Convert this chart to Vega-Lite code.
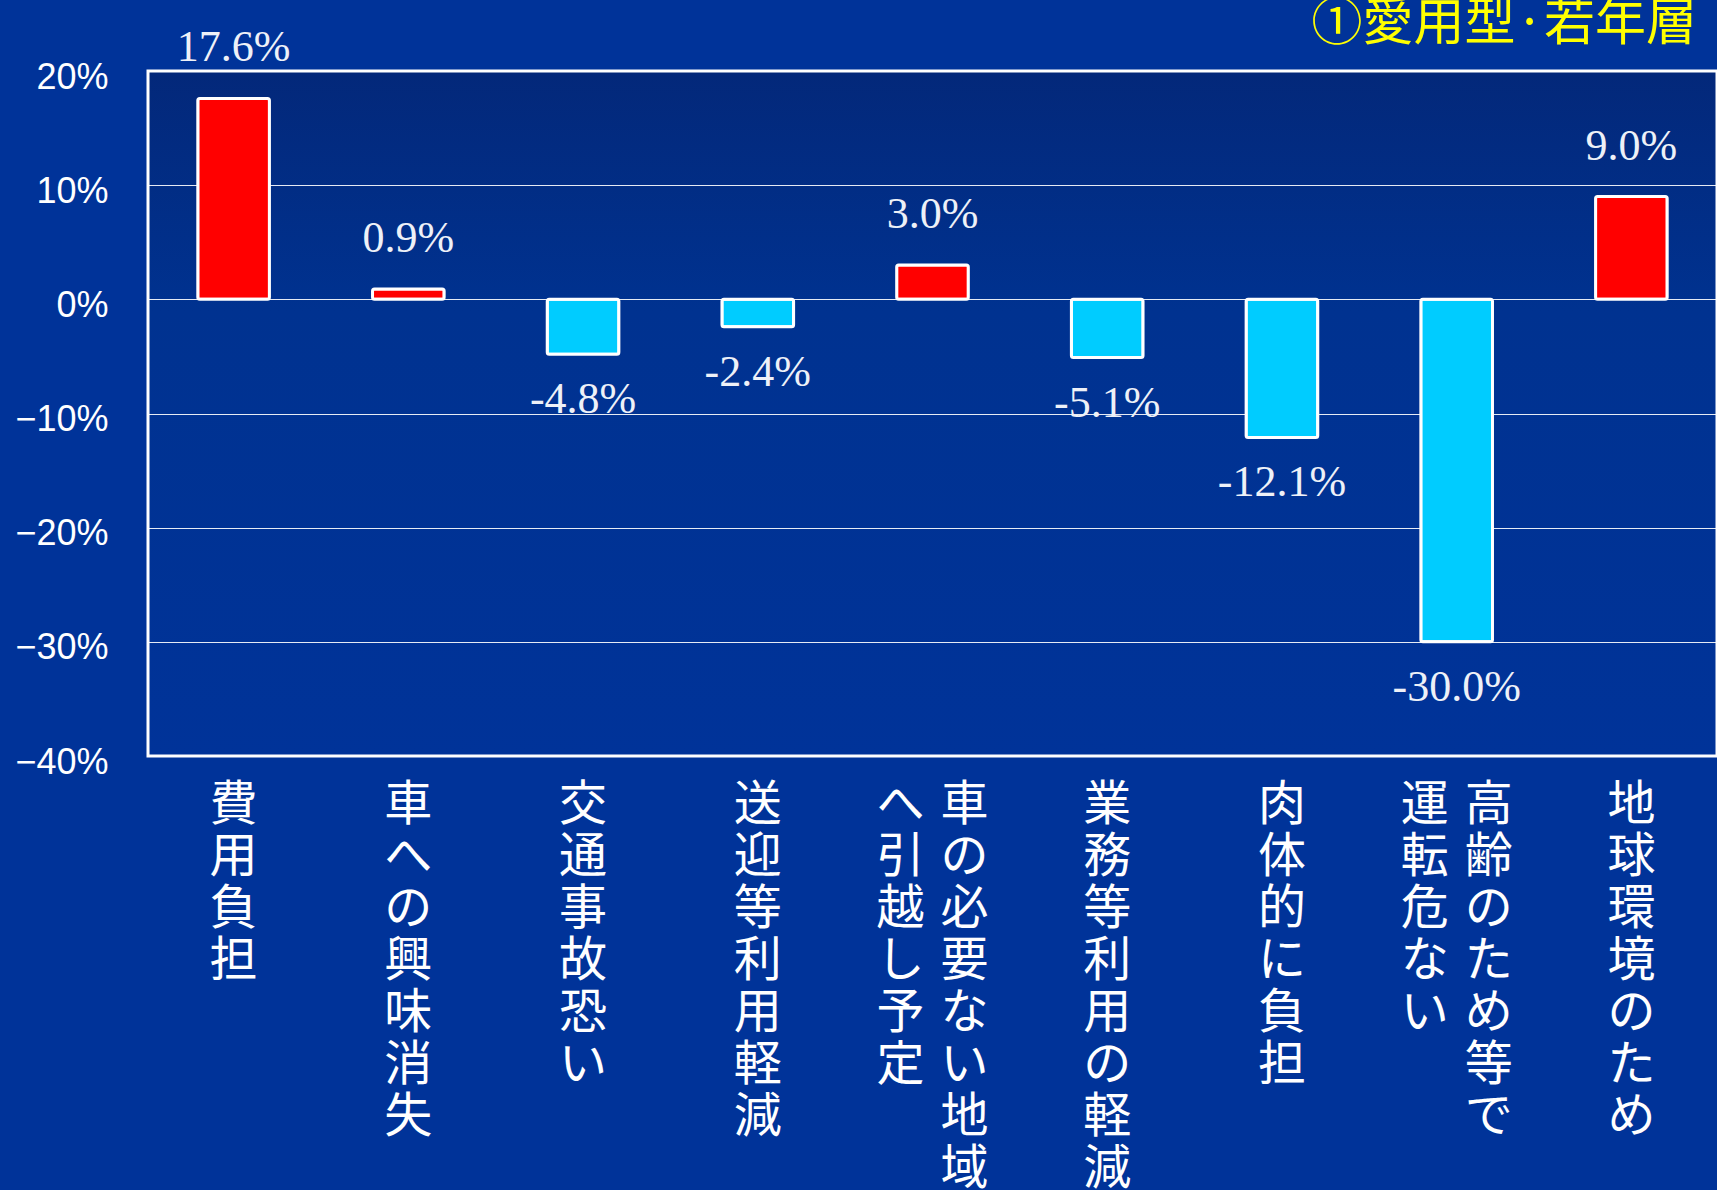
{
  "$schema": "https://vega.github.io/schema/vega-lite/v6.json",
  "autosize": {"type": "none"},
  "width": 1569,
  "height": 685,
  "padding": {"left": 148, "top": 71, "right": 0, "bottom": 434},
  "background": "#003399",
  "title": {
    "text": "①愛用型·若年層",
    "anchor": "end",
    "frame": "group",
    "color": "#ffff00",
    "font": "Noto Sans CJK JP",
    "fontSize": 51,
    "fontWeight": "normal",
    "baseline": "alphabetic",
    "offset": -65,
    "dx": -20
  },
  "config": {
    "locale": {"number": {"decimal": ".", "thousands": ",", "grouping": [3], "currency": ["", ""], "minus": "-"}},
    "view": {
      "stroke": "#ffffff",
      "strokeWidth": 3,
      "fill": {
        "gradient": "linear", "x1": 0, "y1": 0, "x2": 0, "y2": 1,
        "stops": [
          {"offset": 0, "color": "#03287a"},
          {"offset": 0.35, "color": "#003290"},
          {"offset": 1, "color": "#003399"}
        ]
      }
    }
  },
  "data": {
    "values": [
      {"cat": "費用負担", "value": 0.176, "col1": "費\n用\n負\n担", "col2": ""},
      {"cat": "車への興味消失", "value": 0.009, "col1": "車\nへ\nの\n興\n味\n消\n失", "col2": ""},
      {"cat": "交通事故恐い", "value": -0.048, "col1": "交\n通\n事\n故\n恐\nい", "col2": ""},
      {"cat": "送迎等利用軽減", "value": -0.024, "col1": "送\n迎\n等\n利\n用\n軽\n減", "col2": ""},
      {"cat": "車の必要ない地域へ引越し予定", "value": 0.03, "col1": "車\nの\n必\n要\nな\nい\n地\n域", "col2": "へ\n引\n越\nし\n予\n定"},
      {"cat": "業務等利用の軽減", "value": -0.051, "col1": "業\n務\n等\n利\n用\nの\n軽\n減", "col2": ""},
      {"cat": "肉体的に負担", "value": -0.121, "col1": "肉\n体\n的\nに\n負\n担", "col2": ""},
      {"cat": "高齢のため等で運転危ない", "value": -0.3, "col1": "高\n齢\nの\nた\nめ\n等\nで", "col2": "運\n転\n危\nな\nい"},
      {"cat": "地球環境のため", "value": 0.09, "col1": "地\n球\n環\n境\nの\nた\nめ", "col2": ""}
    ]
  },
  "encoding": {
    "x": {
      "field": "cat",
      "type": "nominal",
      "sort": null,
      "scale": {"paddingInner": 0.59, "paddingOuter": 0.285},
      "axis": null
    },
    "y": {
      "field": "value",
      "type": "quantitative",
      "scale": {"domain": [-0.4, 0.2], "nice": false, "zero": true},
      "axis": {
        "title": null,
        "values": [-0.4, -0.3, -0.2, -0.1, 0, 0.1, 0.2],
        "format": "%",
        "labelExpr": "replace(datum.label, '-', '−')",
        "domain": false,
        "ticks": false,
        "tickSize": 0,
        "labelPadding": 40,
        "labelOffset": 6,
        "labelFont": "Liberation Sans",
        "labelFontSize": 36,
        "labelColor": "#ffffff",
        "grid": true,
        "gridColor": "#ffffff",
        "gridOpacity": 0.9,
        "gridWidth": 1.2
      }
    }
  },
  "layer": [
    {
      "mark": {"type": "bar", "stroke": "#ffffff", "strokeWidth": 3, "cornerRadius": 2},
      "encoding": {
        "color": {"condition": {"test": "datum.value >= 0", "value": "#ff0000"}, "value": "#00ccff"}
      }
    },
    {
      "transform": [{"filter": "datum.value >= 0"}],
      "mark": {"type": "text", "font": "Liberation Serif", "fontSize": 44, "color": "#eef1f8", "baseline": "middle", "dy": -50},
      "encoding": {"text": {"field": "value", "type": "quantitative", "format": ".1%"}}
    },
    {
      "transform": [{"filter": "datum.value < 0"}],
      "mark": {"type": "text", "font": "Liberation Serif", "fontSize": 44, "color": "#eef1f8", "baseline": "middle", "dy": 46},
      "encoding": {"text": {"field": "value", "type": "quantitative", "format": ".1%"}}
    },
    {
      "transform": [{"filter": "datum.col2 == ''"}],
      "mark": {"type": "text", "font": "Noto Sans CJK JP", "fontSize": 48, "lineHeight": 52, "lineBreak": "\n", "color": "#ffffff", "baseline": "top", "align": "center", "dy": 26},
      "encoding": {"y": {"datum": -0.4}, "text": {"field": "col1", "type": "nominal"}}
    },
    {
      "transform": [{"filter": "datum.col2 != ''"}],
      "mark": {"type": "text", "font": "Noto Sans CJK JP", "fontSize": 48, "lineHeight": 52, "lineBreak": "\n", "color": "#ffffff", "baseline": "top", "align": "center", "dy": 26, "dx": 32},
      "encoding": {"y": {"datum": -0.4}, "text": {"field": "col1", "type": "nominal"}}
    },
    {
      "transform": [{"filter": "datum.col2 != ''"}],
      "mark": {"type": "text", "font": "Noto Sans CJK JP", "fontSize": 48, "lineHeight": 52, "lineBreak": "\n", "color": "#ffffff", "baseline": "top", "align": "center", "dy": 26, "dx": -32},
      "encoding": {"y": {"datum": -0.4}, "text": {"field": "col2", "type": "nominal"}}
    }
  ]
}
